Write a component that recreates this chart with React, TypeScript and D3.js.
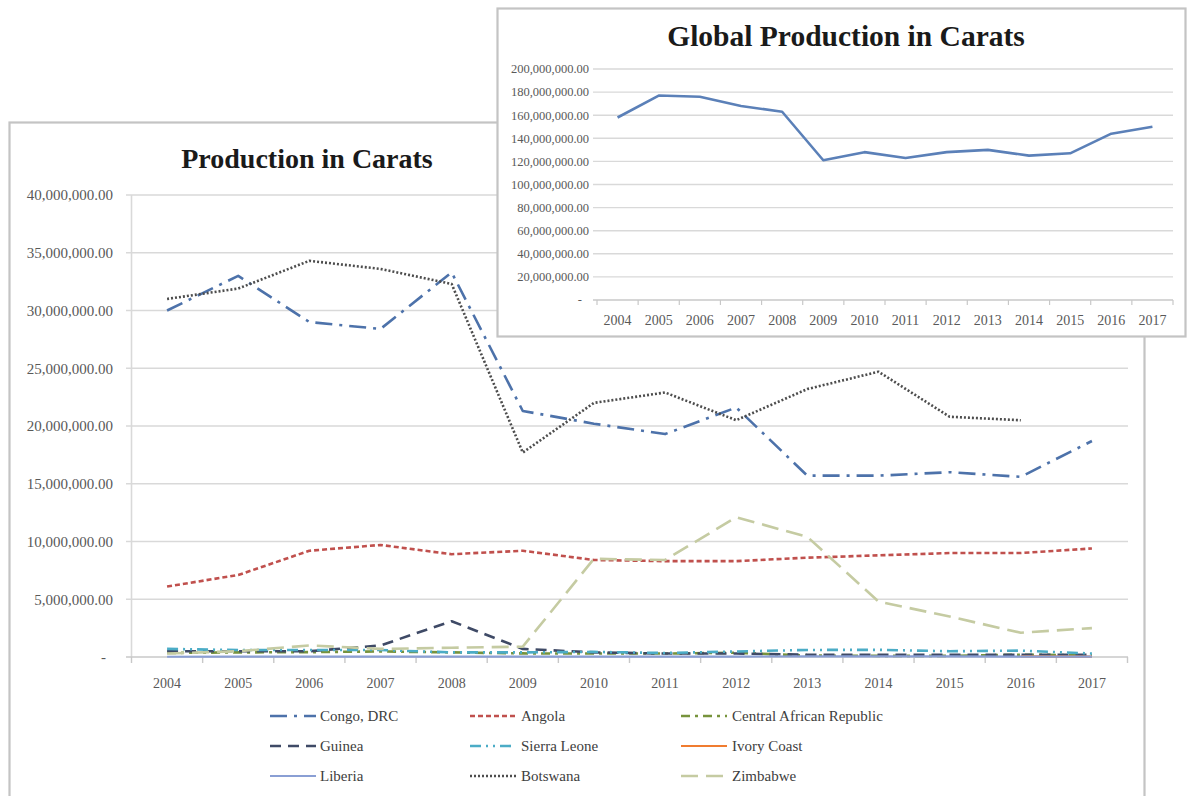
import React from "react";
import * as d3 from "d3";

const years = ["2004", "2005", "2006", "2007", "2008", "2009", "2010", "2011", "2012", "2013", "2014", "2015", "2016", "2017"];

const congoDRC = [30000000, 33000000, 29000000, 28400000, 33300000, 21300000, 20200000, 19300000, 21600000, 15700000, 15700000, 16000000, 15600000, 18700000];
const angola = [6100000, 7100000, 9200000, 9700000, 8900000, 9200000, 8400000, 8300000, 8300000, 8600000, 8800000, 9000000, 9000000, 9400000];
const centralAfricanRepublic = [350000, 400000, 420000, 480000, 400000, 310000, 300000, 300000, 370000, 120000, 100000, 100000, 200000, 150000];
const guinea = [500000, 500000, 500000, 1000000, 3100000, 700000, 400000, 300000, 300000, 200000, 200000, 200000, 200000, 200000];
const sierraLeone = [700000, 600000, 600000, 600000, 400000, 400000, 440000, 350000, 480000, 610000, 620000, 500000, 550000, 300000];
const ivoryCoast = [null, null, null, null, null, null, null, null, null, null, null, null, 60000, 40000];
const liberia = [20000, 30000, 30000, 30000, 30000, 30000, 30000, 30000, 40000, 50000, 60000, 50000, 40000, 40000];
const botswana = [31000000, 31900000, 34300000, 33600000, 32300000, 17700000, 22000000, 22900000, 20500000, 23200000, 24700000, 20800000, 20500000, null];
const zimbabwe = [300000, 500000, 1000000, 700000, 800000, 900000, 8500000, 8400000, 12100000, 10400000, 4800000, 3500000, 2100000, 2500000];

const globalProduction = [158000000, 177000000, 176000000, 168000000, 163000000, 121000000, 128000000, 123000000, 128000000, 130000000, 125000000, 127000000, 144000000, 150000000];

const mainTicks = [0, 5000000, 10000000, 15000000, 20000000, 25000000, 30000000, 35000000, 40000000];
const insetTicks = [0, 20000000, 40000000, 60000000, 80000000, 100000000, 120000000, 140000000, 160000000, 180000000, 200000000];

type Series = { name: string; values: (number | null)[]; color: string; dash: string; width: number };

const seriesList: Series[] = [
  { name: "Congo, DRC", values: congoDRC, color: "#4d72aa", dash: "17,7,3,7", width: 2.6 },
  { name: "Angola", values: angola, color: "#c0504d", dash: "5,3", width: 2.6 },
  { name: "Central African Republic", values: centralAfricanRepublic, color: "#77933c", dash: "9,5,3,5", width: 2.6 },
  { name: "Guinea", values: guinea, color: "#3f4a66", dash: "11,7", width: 2.6 },
  { name: "Sierra Leone", values: sierraLeone, color: "#4bacc6", dash: "11,5,2,5,2,5", width: 2.6 },
  { name: "Ivory Coast", values: ivoryCoast, color: "#f07c30", dash: "", width: 2.2 },
  { name: "Liberia", values: liberia, color: "#8a9fd4", dash: "", width: 2.2 },
  { name: "Botswana", values: botswana, color: "#4d4d4d", dash: "2,2", width: 2.6 },
  { name: "Zimbabwe", values: zimbabwe, color: "#c5cba2", dash: "17,8", width: 2.6 },
];

const fmt = d3.format(",.2f");
const tickLabel = (v: number) => (v === 0 ? "-" : fmt(v));

const SERIF = "'Liberation Serif', 'Times New Roman', serif";

export default function App() {
  const x = d3.scaleBand<string>().domain(years).range([131.5, 1127.5]);
  const y = d3.scaleLinear().domain([0, 40000000]).range([657, 195]);
  const cx = (d: string) => (x(d) as number) + x.bandwidth() / 2;

  const xi = d3.scaleBand<string>().domain(years).range([597, 1173]);
  const yi = d3.scaleLinear().domain([0, 200000000]).range([300, 69]);
  const cxi = (d: string) => (xi(d) as number) + xi.bandwidth() / 2;

  const lineFor = (vals: (number | null)[]) =>
    d3
      .line<string>()
      .defined((_, i) => vals[i] !== null)
      .x((d) => cx(d))
      .y((_, i) => y(vals[i] as number))(years) || "";

  const globalLine =
    d3
      .line<string>()
      .x((d) => cxi(d))
      .y((_, i) => yi(globalProduction[i]))(years) || "";

  const legendCols = [
    { lx: 270, tx: 320 },
    { lx: 470, tx: 521 },
    { lx: 681, tx: 732 },
  ];
  const legendRows = [716, 746, 776];

  return (
    <svg
      width={1188}
      height={796}
      style={{ position: "absolute", left: 0, top: 0, background: "#fff" }}
      fontFamily={SERIF}
    >
      <rect x={0} y={0} width={1188} height={796} fill="#fff" />
      <rect x={9.5} y={122.5} width={1135} height={700} fill="#fff" stroke="#c4c4c4" strokeWidth={2.2} />
      <text x={307} y={168} textAnchor="middle" fontSize={28} fontWeight="bold" fill="#1a1a1a">
        Production in Carats
      </text>

      {mainTicks.map((t) => (
        <g key={"mt" + t}>
          {t !== 0 && <line x1={126} x2={1128} y1={y(t)} y2={y(t)} stroke="#d9d9d9" strokeWidth={1.6} />}
          <text x={t === 0 ? 106 : 113} y={y(t)} dy="0.35em" textAnchor="end" fontSize={15} fill="#595959">
            {tickLabel(t)}
          </text>
        </g>
      ))}
      <line x1={131.5} x2={131.5} y1={195} y2={657} stroke="#d9d9d9" strokeWidth={1.6} />
      <line x1={126} x2={1128} y1={657} y2={657} stroke="#c8c8c8" strokeWidth={1.6} />
      {years.concat(["end"]).map((d, i) => {
        const xx = i < years.length ? (x(d) as number) : 1127.5;
        return <line key={"xt" + i} x1={xx} x2={xx} y1={657} y2={663} stroke="#c8c8c8" strokeWidth={1.4} />;
      })}
      {years.map((d) => (
        <text key={"xl" + d} x={cx(d)} y={688} textAnchor="middle" fontSize={14} fill="#595959">
          {d}
        </text>
      ))}

      {seriesList.map((s) => (
        <path
          key={s.name}
          d={lineFor(s.values)}
          fill="none"
          stroke={s.color}
          strokeWidth={s.width}
          strokeDasharray={s.dash || undefined}
          strokeLinejoin="round"
        />
      ))}

      {seriesList.map((s, i) => {
        const col = legendCols[i % 3];
        const ry = legendRows[Math.floor(i / 3)];
        return (
          <g key={"lg" + s.name}>
            <line
              x1={col.lx}
              x2={col.lx + 46}
              y1={ry}
              y2={ry}
              stroke={s.color}
              strokeWidth={s.width}
              strokeDasharray={s.dash || undefined}
            />
            <text x={col.tx} y={ry} dy="0.35em" fontSize={15} fill="#404040">
              {s.name}
            </text>
          </g>
        );
      })}

      <rect x={497.5} y={8.5} width={688} height={328} fill="#fff" stroke="#c4c4c4" strokeWidth={2.2} />
      <text x={846} y={46} textAnchor="middle" fontSize={29.5} fontWeight="bold" fill="#1a1a1a">
        Global Production in Carats
      </text>
      {insetTicks.map((t) => (
        <g key={"it" + t}>
          {t !== 0 && <line x1={593} x2={1173} y1={yi(t)} y2={yi(t)} stroke="#d9d9d9" strokeWidth={1.4} />}
          <text x={t === 0 ? 582 : 589} y={yi(t)} dy="0.35em" textAnchor="end" fontSize={12.5} fill="#595959">
            {tickLabel(t)}
          </text>
        </g>
      ))}
      <line x1={593} x2={1173} y1={300} y2={300} stroke="#c8c8c8" strokeWidth={1.4} />
      {years.concat(["end"]).map((d, i) => {
        const xx = i < years.length ? (xi(d) as number) : 1173;
        return <line key={"xit" + i} x1={xx} x2={xx} y1={300} y2={305} stroke="#c8c8c8" strokeWidth={1.2} />;
      })}
      {years.map((d) => (
        <text key={"xil" + d} x={cxi(d)} y={325} textAnchor="middle" fontSize={14} fill="#595959">
          {d}
        </text>
      ))}
      <path d={globalLine} fill="none" stroke="#5b80b8" strokeWidth={2.6} strokeLinejoin="round" />
    </svg>
  );
}
